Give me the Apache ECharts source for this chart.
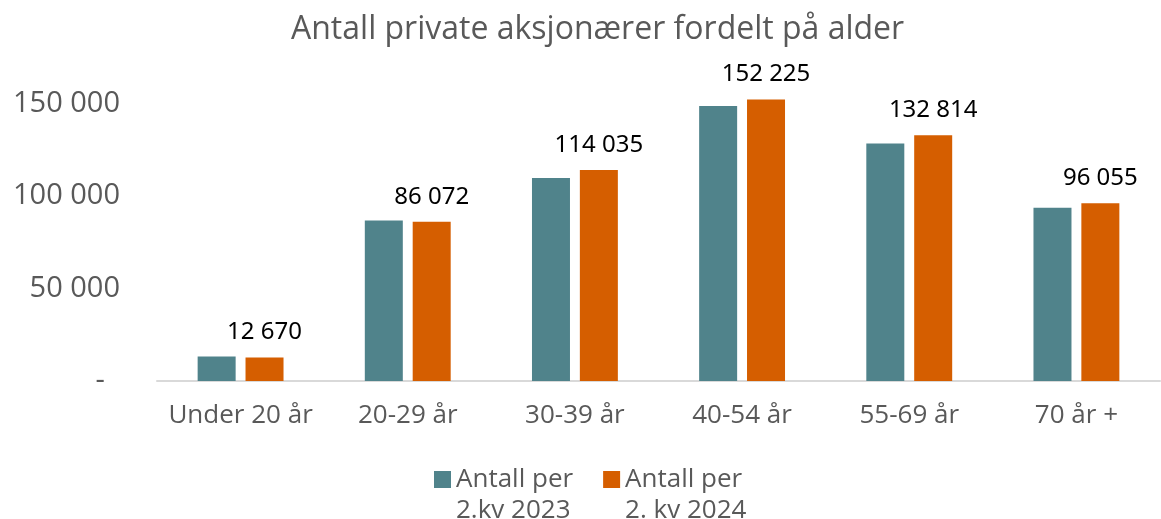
<!DOCTYPE html>
<html>
<head>
<meta charset="utf-8">
<script src="https://cdn.jsdelivr.net/npm/echarts@6/dist/echarts.min.js"></script>
<style>
  html, body { margin: 0; padding: 0; background: #fff; }
  #chart { width: 1161px; height: 519px; }
</style>
</head>
<body>
<div id="chart"></div>
<script>
const categories = ['Under 20 år', '20-29 år', '30-39 år', '40-54 år', '55-69 år', '70 år +'];
const values2023 = [13200, 86800, 109700, 148600, 128400, 93700];
const values2024 = [12670, 86072, 114035, 152225, 132814, 96055];
const seriesNames = ['Antall per\n2.kv 2023', 'Antall per\n2. kv 2024'];

const grey = '#595959';
const fontMain = '"Open Sans", Lato, sans-serif';

// 150000 -> "150 000"
const fmt = v => String(v).replace(/\B(?=(\d{3})+(?!\d))/g, ' ');

const chart = echarts.init(document.getElementById('chart'));

chart.setOption({
  animation: false,
  backgroundColor: '#fff',
  title: {
    text: 'Antall private aksjonærer fordelt på alder',
    left: 286,
    top: 9,
    textStyle: { color: grey, fontSize: 32, fontWeight: 'normal', fontFamily: fontMain }
  },
  legend: {
    left: 429,
    top: 428,
    itemWidth: 17,
    itemHeight: 17,
    itemGap: 30,
    icon: 'rect',
    // leading blank line keeps the marker level with the first text line
    formatter: name => '\n' + name,
    textStyle: { color: grey, fontSize: 26, lineHeight: 31, fontFamily: fontMain }
  },
  grid: { left: 157, right: 1, top: 85, bottom: 138 },
  xAxis: {
    type: 'category',
    data: categories,
    axisLine: { lineStyle: { color: '#d9d9d9', width: 2 } },
    axisTick: { show: false },
    axisLabel: { color: grey, fontSize: 26, margin: 22, interval: 0, fontFamily: fontMain }
  },
  yAxis: {
    type: 'value',
    min: 0,
    max: 160000,
    interval: 50000,
    splitLine: { show: false },
    axisLine: { show: false },
    axisTick: { show: false },
    axisLabel: {
      color: grey,
      fontSize: 29,
      margin: 37,
      fontFamily: fontMain,
      formatter: v => (v === 0 ? '-  ' : v % 50000 ? '' : fmt(v))
    }
  },
  series: [
    {
      name: seriesNames[0],
      type: 'bar',
      data: values2023,
      barWidth: 38,
      barGap: '26%',
      itemStyle: { color: '#50838B' }
    },
    {
      name: seriesNames[1],
      type: 'bar',
      data: values2024,
      barWidth: 38,
      itemStyle: { color: '#D55E00' },
      label: {
        show: true,
        position: 'top',
        distance: 13,
        color: '#000',
        fontSize: 24,
        fontFamily: '"Noto Sans", sans-serif',
        formatter: p => fmt(p.value)
      }
    }
  ]
});
</script>
</body>
</html>
